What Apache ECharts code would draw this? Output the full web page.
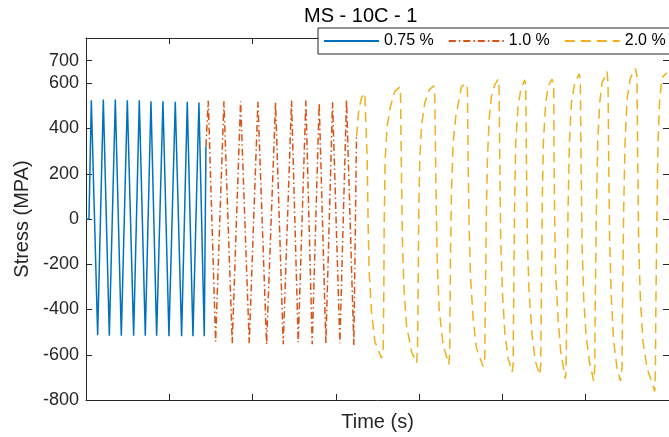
<!DOCTYPE html>
<html>
<head>
<meta charset="utf-8">
<script src="https://cdn.jsdelivr.net/npm/echarts@6/dist/echarts.min.js"></script>
<style>
html,body{margin:0;padding:0;background:#fff;}
#chart{width:669px;height:437px;}
</style>
</head>
<body>
<div id="chart"></div>
<script>
// ---- data (time in arbitrary units, stress in MPa) ----
var titleText = 'MS - 10C - 1';
var seriesNames = ['0.75 %', '1.0 %', '2.0 %'];
var yTicks = [-800, -600, -400, -200, 0, 200, 400, 600, 700];

var t075 = [0,36,64,140,208,280,352,424,496,572,640,712,780,848,924,996,1072,1148,1216,1284,1356,1420,1440];
var s075 = [0,0,525,-514,528,-516,528,-516,525,-516,525,-516,520,-516,520,-518,518,-518,518,-518,515,-518,322];

var t10 = [1440,1468,1556,1656,1756,1856,1960,2064,2168,2276,2368,2468,2548,2640,2716,2800,2880,2960,3048,3128,3216,3248];
var s10 = [322,523,-542,520,-549,520,-549,518,-554,515,-554,524,-545,524,-554,514,-549,516,-549,527,-557,365];

var t20 = [3248,3276,3308,3348,3368,3376,3388,3400,3428,3468,3548,
  3568,3576,3580,3592,3616,3656,3708,3768,
  3776,3788,3800,3816,3848,3908,3968,
  3980,3988,3996,4008,4028,4068,4120,4176,
  4188,4200,4216,4240,4288,4356,
  4368,4376,4388,4408,4440,4480,4508,4568,
  4580,4588,4600,4616,4648,4688,4768,
  4788,4796,4808,4820,4840,4868,4908,4948,
  4960,4968,4980,5000,5028,5068,5116,
  5128,5136,5148,5160,5188,5220,5268,
  5280,5288,5300,5320,5356,5396,5448,
  5460,5468,5480,5492,5516,5548,5596,
  5616,5620,5628,5640,5668,5700,5740,5756,
  5764,5776,5788,5804,5828,5868,5924,
  5936,5944,5956,5976,6004,6044,6096,
  6108,6116,6128,6144,6168,6196,6256,
  6268,6276,6288,6308,6336,6376,6416,
  6436,6444,6456,6472,6496,6536,6596,
  6616,6624,6636,6656,6688,6736,6796,6828,
  6836,6844,6856,6868,6888,6916,6972];
var s20 = [365,484,535,557,549,264,-29,-234,-410,-542,-615,
  -586,-322,-29,264,410,498,564,583,
  557,190,-102,-293,-469,-586,-637,
  -586,-322,44,264,410,513,571,589,
  542,190,-176,-396,-557,-643,
  -586,-176,117,337,454,528,586,598,
  571,264,-29,-249,-440,-571,-652,
  -615,-322,44,264,440,542,593,618,
  586,264,-102,-322,-498,-615,-677,
  -645,-322,117,337,498,571,615,
  586,264,-102,-322,-513,-630,-689,
  -645,-322,117,337,498,586,618,
  586,264,-29,-249,-440,-586,-674,-706,
  -659,-322,44,337,513,601,642,
  586,264,-102,-352,-513,-630,-716,
  -659,-322,44,337,513,601,652,
  601,264,-102,-352,-542,-659,-716,
  -659,-322,44,337,528,623,666,
  630,264,-102,-352,-542,-659,-725,-762,
  -703,-322,44,337,528,623,646];

function zip(t, s) { var o = []; for (var i = 0; i < t.length; i++) o.push([t[i], s[i]]); return o; }

var FONT = "'Liberation Sans', Arial, Helvetica, sans-serif";
var AX = '#262626';

var chart = echarts.init(document.getElementById('chart'), null, {renderer: 'canvas'});
var baseX = {
  type: 'value', min: 0, max: 7000, interval: 1000,
  axisLine: {show: true, onZero: false, lineStyle: {color: AX, width: 1}},
  axisTick: {show: true, inside: true, length: 6, lineStyle: {color: AX}},
  axisLabel: {show: false},
  splitLine: {show: false}
};
var baseY = {
  type: 'value', min: -800, max: 800, interval: 100,
  axisLine: {show: true, onZero: false, lineStyle: {color: AX, width: 1}},
  axisTick: {show: true, inside: true, length: 6, customValues: yTicks, lineStyle: {color: AX}},
  splitLine: {show: false}
};
chart.setOption({
  animation: false,
  backgroundColor: '#fff',
  title: {
    text: titleText, left: 304, top: 6, padding: 0,
    textStyle: {fontFamily: FONT, fontSize: 20, fontWeight: 'normal', color: '#000'}
  },
  legend: {
    left: 318, top: 28, width: 360, orient: 'horizontal',
    itemWidth: 55, itemHeight: 14, itemGap: 14,
    padding: [5, 6, 5, 5],
    borderColor: AX, borderWidth: 1, backgroundColor: '#fff',
    itemStyle: {opacity: 0},
    textStyle: {fontFamily: FONT, fontSize: 16, color: '#000'},
    data: seriesNames
  },
  grid: {left: 86, top: 38, width: 585, height: 364, containLabel: false},
  xAxis: [
    Object.assign({}, baseX, {
      position: 'bottom', name: 'Time (s)', nameLocation: 'middle', nameGap: 12,
      nameTextStyle: {fontFamily: FONT, fontSize: 20, color: AX}
    }),
    Object.assign({}, baseX, {position: 'top'})
  ],
  yAxis: [
    Object.assign({}, baseY, {
      position: 'left', name: 'Stress (MPA)', nameLocation: 'middle', nameGap: 52,
      nameTextStyle: {fontFamily: FONT, fontSize: 20, color: AX},
      axisLabel: {show: true, customValues: yTicks, margin: 7, fontFamily: FONT, fontSize: 18, color: AX}
    }),
    Object.assign({}, baseY, {position: 'right', axisLabel: {show: false}})
  ],
  series: [
    {name: seriesNames[0], type: 'line', data: zip(t075, s075), showSymbol: false, symbol: 'none',
     lineStyle: {color: '#0072BD', width: 1.5, type: 'solid'}, itemStyle: {color: '#0072BD'}},
    {name: seriesNames[1], type: 'line', data: zip(t10, s10), showSymbol: false, symbol: 'none',
     lineStyle: {color: '#D95319', width: 1.5, type: [7, 3, 1.5, 3]}, itemStyle: {color: '#D95319'}},
    {name: seriesNames[2], type: 'line', data: zip(t20, s20), showSymbol: false, symbol: 'none',
     lineStyle: {color: '#EDB120', width: 1.5, type: [10, 6]}, itemStyle: {color: '#EDB120'}}
  ]
});
</script>
</body>
</html>
